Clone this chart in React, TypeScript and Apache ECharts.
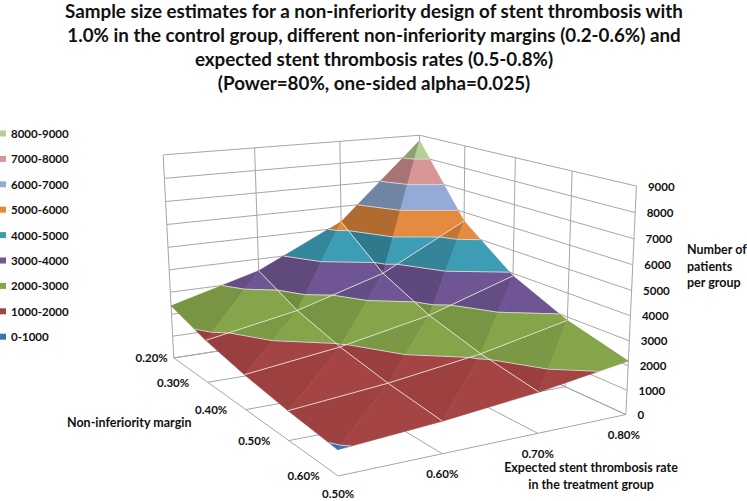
import React, { useEffect, useRef } from "react";
import * as echarts from "echarts";

const FONT = "Lato";
const TITLE_LINES = [
  "Sample size estimates for a non-inferiority design of stent thrombosis with",
  "1.0% in the control group, different non-inferiority margins (0.2-0.6%) and",
  "expected stent thrombosis rates (0.5-0.8%)",
  "(Power=80%, one-sided alpha=0.025)",
];
const MARGINS = ["0.20%", "0.30%", "0.40%", "0.50%", "0.60%"];
const RATES = ["0.50%", "0.60%", "0.70%", "0.80%"];
const Z_TICKS = [0, 1000, 2000, 3000, 4000, 5000, 6000, 7000, 8000, 9000];

// Patients per group, one list per expected rate, in the order of MARGINS
const RATE_050 = [2383, 1825, 1442, 1168, 965];
const RATE_060 = [3459, 2541, 1946, 1537, 1245];
const RATE_070 = [5291, 3674, 2700, 2067, 1633];
const RATE_080 = [8751, 5600, 3889, 2857, 2188];
const VALUES = [RATE_050, RATE_060, RATE_070, RATE_080];

const BAND_NAMES = ["0-1000", "1000-2000", "2000-3000", "3000-4000", "4000-5000", "5000-6000", "6000-7000", "7000-8000", "8000-9000"];
const BAND_COLORS = ["#3f72b0", "#a54444", "#84a54a", "#6f5593", "#3d9db5", "#e58b3f", "#93abd6", "#d89595", "#b7cf94"];

// Where the box's corners and ticks fall: [margin index, rate index, thousands, px, py]
const CAMERA_ANCHORS = [
  [0, 0, 0, 173, 358], [1, 0, 0, 208, 382], [2, 0, 0, 247, 410], [3, 0, 0, 290, 441], [4, 0, 0, 337, 476],
  [4, 1, 0, 441, 454], [4, 2, 0, 537, 433], [4, 3, 0, 627, 414],
  [0, 0, 9, 163, 155], [0, 1, 9, 255, 147], [0, 2, 9, 340, 141], [0, 3, 9, 419, 135],
  [1, 3, 9, 465, 147], [2, 3, 9, 515, 158], [3, 3, 9, 572, 172], [4, 3, 9, 637, 185],
];

function solveCamera(): number[] {
  const n = 11;
  const A = Array.from({ length: n }, () => new Array(n + 1).fill(0));
  const addRow = (r: number[], b: number) => {
    for (let i = 0; i < n; i++) {
      for (let k = 0; k < n; k++) A[i][k] += r[i] * r[k];
      A[i][n] += r[i] * b;
    }
  };
  for (const [X, Y, Z, u, v] of CAMERA_ANCHORS) {
    addRow([X, Y, Z, 1, 0, 0, 0, 0, -u * X, -u * Y, -u * Z], u);
    addRow([0, 0, 0, 0, X, Y, Z, 1, -v * X, -v * Y, -v * Z], v);
  }
  for (let c = 0; c < n; c++) {
    let p = c;
    for (let r = c + 1; r < n; r++) if (Math.abs(A[r][c]) > Math.abs(A[p][c])) p = r;
    [A[c], A[p]] = [A[p], A[c]];
    for (let r = 0; r < n; r++) {
      if (r === c) continue;
      const f = A[r][c] / A[c][c];
      for (let k = c; k <= n; k++) A[r][k] -= f * A[c][k];
    }
  }
  return A.map((row, i) => row[n] / row[i]);
}
const CAM = solveCamera();
function project(i: number, j: number, v: number): number[] {
  const z = v / 1000;
  const w = CAM[8] * i + CAM[9] * j + CAM[10] * z + 1;
  return [
    (CAM[0] * i + CAM[1] * j + CAM[2] * z + CAM[3]) / w,
    (CAM[4] * i + CAM[5] * j + CAM[6] * z + CAM[7]) / w,
  ];
}

type P3 = number[];
// each cell is split on its diagonal: [left triangle, right triangle]
function cellTriangles(i: number, j: number): P3[][] {
  const p = (a: number, b: number): P3 => [a, b, VALUES[b][a]];
  return [
    [p(i, j), p(i, j + 1), p(i + 1, j)],
    [p(i, j + 1), p(i + 1, j + 1), p(i + 1, j)],
  ];
}
function clipAbove(poly: P3[], lim: number, keepAbove: boolean): P3[] {
  const out: P3[] = [];
  const inside = (q: P3) => (keepAbove ? q[2] >= lim : q[2] <= lim);
  for (let k = 0; k < poly.length; k++) {
    const a = poly[k];
    const b = poly[(k + 1) % poly.length];
    if (inside(a)) out.push(a);
    if (inside(a) !== inside(b)) {
      const t = (lim - a[2]) / (b[2] - a[2]);
      out.push([a[0] + t * (b[0] - a[0]), a[1] + t * (b[1] - a[1]), lim]);
    }
  }
  return out;
}
function shade(tri: P3[], isLeft: boolean, hex: string): string {
  const CELL = 2250;
  let di, dj;
  if (isLeft) {
    di = (tri[2][2] - tri[0][2]) / CELL;
    dj = (tri[1][2] - tri[0][2]) / CELL;
  } else {
    di = (tri[1][2] - tri[0][2]) / CELL;
    dj = (tri[1][2] - tri[2][2]) / CELL;
  }
  const len = Math.hypot(di, dj, 1);
  const nl = (-di * 0.7 - dj * 0.5 + 0.5) / len / 0.995;
  const f = Math.min(1, 0.74 + 0.53 * nl) * (isLeft ? 0.96 : 1);
  const c = [1, 3, 5].map((s) => Math.round(parseInt(hex.slice(s, s + 2), 16) * f));
  return `rgb(${c[0]},${c[1]},${c[2]})`;
}

const CELLS: number[][] = [];
for (let i = 0; i < MARGINS.length - 1; i++)
  for (let j = RATES.length - 2; j >= 0; j--) CELLS.push([i, j]);

function bandSeries(band: number) {
  const lo = band * 1000;
  const hi = lo + 1000;
  return {
    type: "custom",
    name: BAND_NAMES[band],
    coordinateSystem: "none",
    silent: true,
    z: 3,
    itemStyle: { color: BAND_COLORS[band] },
    data: CELLS,
    renderItem: (params: any) => {
      const [i, j] = CELLS[params.dataIndex];
      const tris = cellTriangles(i, j);
      const children: any[] = [];
      tris.forEach((tri, t) => {
        const poly = clipAbove(clipAbove(tri, lo, true), hi, false);
        if (poly.length < 3) return;
        const fill = shade(tri, t === 0, BAND_COLORS[band]);
        children.push({
          type: "polygon",
          shape: { points: poly.map((q) => project(q[0], q[1], q[2])) },
          style: { fill, stroke: fill, lineWidth: 0.6 },
        });
      });
      return { type: "group", children };
    },
  };
}

type Seg = number[][];
const WALL_SEGS: Seg[] = [];
const nI = MARGINS.length - 1;
const nJ = RATES.length - 1;
const zMax = Z_TICKS[Z_TICKS.length - 1];
Z_TICKS.forEach((z) => {
  WALL_SEGS.push([[0, 0, z], [0, nJ, z]]);
  WALL_SEGS.push([[0, nJ, z], [nI, nJ, z]]);
});
RATES.forEach((_, j) => WALL_SEGS.push([[0, j, 0], [0, j, zMax]]));
MARGINS.forEach((_, i) => WALL_SEGS.push([[i, nJ, 0], [i, nJ, zMax]]));
MARGINS.forEach((_, i) => WALL_SEGS.push([[i, 0, 0], [i, nJ, 0]]));
RATES.forEach((_, j) => WALL_SEGS.push([[0, j, 0], [nI, j, 0]]));

const GRID_SEGS: Seg[] = [];
for (let j = 1; j < nJ; j++)
  for (let i = 0; i < nI; i++) GRID_SEGS.push([[i, j, VALUES[j][i]], [i + 1, j, VALUES[j][i + 1]]]);
for (let i = 1; i < nI; i++)
  for (let j = 0; j < nJ; j++) GRID_SEGS.push([[i, j, VALUES[j][i]], [i, j + 1, VALUES[j + 1][i]]]);

const BAND_SEGS: Seg[] = [];
CELLS.forEach(([i, j]) => {
  cellTriangles(i, j).forEach((tri) => {
    Z_TICKS.forEach((z) => {
      const pts: P3[] = [];
      for (let k = 0; k < 3; k++) {
        const a = tri[k];
        const b = tri[(k + 1) % 3];
        if (a[2] < z !== b[2] < z) {
          const t = (z - a[2]) / (b[2] - a[2]);
          pts.push([a[0] + t * (b[0] - a[0]), a[1] + t * (b[1] - a[1]), z]);
        }
      }
      if (pts.length === 2) BAND_SEGS.push(pts);
    });
  });
});

function lineSeries(name: string, segs: Seg[], color: string, width: number, z: number, opacity: number = 1) {
  return {
    type: "custom",
    name,
    coordinateSystem: "none",
    silent: true,
    z,
    data: segs.map((_, k) => k),
    renderItem: (params: any) => {
      const [a, b] = segs[params.dataIndex];
      const p = project(a[0], a[1], a[2]);
      const q = project(b[0], b[1], b[2]);
      return {
        type: "line",
        shape: { x1: p[0], y1: p[1], x2: q[0], y2: q[1] },
        style: { stroke: color, lineWidth: width, fill: "none", opacity },
      };
    },
  };
}

const WORD_SIZE = 12.5;
const NUMBER_SIZE = 11.5;
function label(x: number, y: number, text: string, align: string = "center", size: number = WORD_SIZE) {
  return {
    type: "text",
    x,
    y,
    silent: true,
    style: { text, fill: "#111", font: `bold ${size}px ${FONT}`, align, verticalAlign: "middle" },
  };
}

function buildGraphics() {
  const out: any[] = [];
  Z_TICKS.forEach((z) => {
    const p = project(nI, nJ, z);
    out.push(label(p[0] + 11.5, p[1], String(z), "left", NUMBER_SIZE));
  });
  MARGINS.forEach((m, i) => {
    const p = project(i, 0, 0);
    out.push(label(p[0] + (i === 0 ? -6 : -18.5), p[1], m, "right", NUMBER_SIZE));
  });
  RATES.forEach((r, j) => {
    const p = project(nI, j, 0);
    out.push(label(p[0] - (j === nJ ? 2 : 0), p[1] + (j === 0 ? 18 : 20), r, "center", NUMBER_SIZE));
  });
  out.push(label(67, 422, "Non-inferiority margin", "left"));
  out.push(label(687, 249, "Number of", "left"));
  out.push(label(687, 266, "patients", "left"));
  out.push(label(687, 282, "per group", "left"));
  out.push(label(591, 467, "Expected stent thrombosis rate", "center"));
  out.push(label(591, 484, "in the treatment group", "center"));
  return out;
}

export default function App() {
  const ref = useRef<HTMLDivElement>(null);
  useEffect(() => {
    document.body.style.margin = "0";
    const chart = echarts.init(ref.current!, undefined, { renderer: "svg" });
    const bandOrder = BAND_NAMES.map((_, k) => BAND_NAMES.length - 1 - k);
    chart.setOption({
      animation: false,
      backgroundColor: "#fff",
      title: {
        text: TITLE_LINES.join("\n"),
        left: 374,
        top: -2,
        textAlign: "center",
        padding: 0,
        textStyle: { fontFamily: FONT, fontWeight: "bold", fontSize: 18.8, lineHeight: 24, color: "#111" },
      },
      legend: {
        orient: "vertical",
        left: 0,
        top: 127.5,
        padding: 0,
        itemWidth: 6,
        itemHeight: 6,
        itemGap: 13.4,
        icon: "rect",
        selectedMode: false,
        data: bandOrder.map((b) => BAND_NAMES[b]),
        textStyle: { fontFamily: FONT, fontWeight: "bold", fontSize: NUMBER_SIZE, color: "#111" },
      },
      graphic: { elements: buildGraphics() },
      series: [
        lineSeries("walls", WALL_SEGS, "#a6a6a6", 1, 1),
        ...bandOrder.map(bandSeries),
        lineSeries("bands", BAND_SEGS, "#d4d4d0", 1, 4),
        lineSeries("grid", GRID_SEGS, "#efefe0", 1, 5, 0.85),
      ],
    });
    return () => chart.dispose();
  }, []);
  return <div ref={ref} style={{ position: "absolute", left: 0, top: 0, width: 747, height: 501 }} />;
}
